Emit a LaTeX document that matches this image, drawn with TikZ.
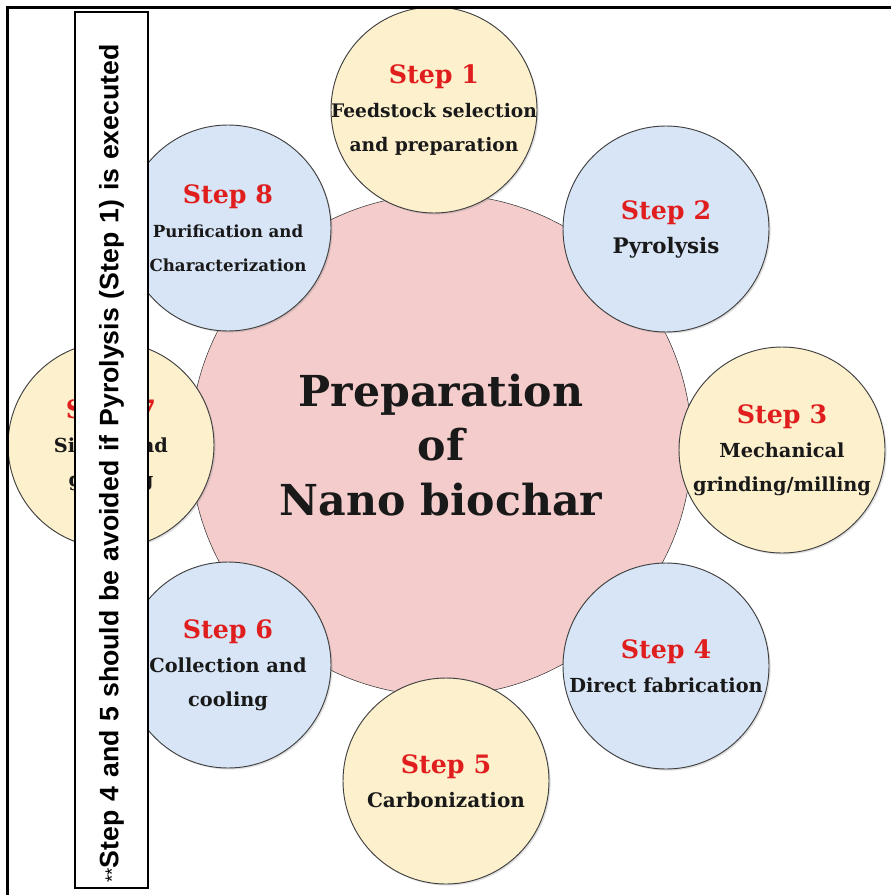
\documentclass[tikz,border=0pt]{standalone}
\usepackage{fontspec}
\setmainfont{DejaVu Serif}
\setsansfont{Liberation Sans}
\usepackage{xcolor}
\usetikzlibrary{shadows}

\definecolor{hubpink}{HTML}{F4CCCC}
\definecolor{stepyellow}{HTML}{FDF0CD}
\definecolor{stepblue}{HTML}{D7E5F6}
\definecolor{stepred}{HTML}{E01E1E}

\begin{document}
\begin{tikzpicture}[x=0.75pt, y=-0.75pt,
                    hub/.style={circle, draw=black!80, fill=hubpink, minimum size=376pt, inner sep=0pt,
                                align=center, font=\bfseries\fontsize{32}{41}\selectfont, text=black!90},
                    stepball/.style={circle, draw=black!75, line width=0.7pt, minimum size=154.5pt, inner sep=-15pt,
                                     align=center, font=\bfseries\fontsize{14.5}{25.5}\selectfont, text=black!90,
                                     drop shadow={opacity=0.25, shadow xshift=1.2pt, shadow yshift=-1.2pt}},
                    yellowball/.style={stepball, fill=stepyellow},
                    blueball/.style={stepball, fill=stepblue},
                    note/.style={rectangle, draw, line width=1pt, fill=white, rotate=90, minimum width=657pt,
                                 minimum height=54.75pt, text width=649pt, inner xsep=4pt, align=left,
                                 font=\sffamily\bfseries\fontsize{20}{24}\selectfont}]
\newcommand{\steptitle}[1]{{\color{stepred}\fontsize{19}{25.5}\selectfont Step #1}}

\useasboundingbox (0,0) rectangle (890,895);

% Central circle
\node[hub] (hub) at (441,445) {Preparation\\ of\\ Nano biochar};

% The eight steps around it
\node[yellowball, font=\bfseries\fontsize{14}{25.5}\selectfont] (s1) at (434,110) {\steptitle{1}\\ Feedstock selection\\ and preparation};
\node[blueball, font=\bfseries\fontsize{16}{25.5}\selectfont] (s2) at (666,229) {\steptitle{2}\\ Pyrolysis};
\node[yellowball] (s3) at (782,450) {\steptitle{3}\\ Mechanical\\ grinding/milling};
\node[blueball] (s4) at (666,666) {\steptitle{4}\\ Direct fabrication};
\node[yellowball, font=\bfseries\fontsize{15}{25.5}\selectfont] (s5) at (446,781) {\steptitle{5}\\ Carbonization};
\node[blueball] (s6) at (228,665) {\steptitle{6}\\ Collection and\\ cooling};
\node[yellowball] (s7) at (111,445) {\steptitle{7}\\ Sizing and\\ grading};
\node[blueball, font=\bfseries\fontsize{12.5}{25.5}\selectfont] (s8) at (228,228) {\steptitle{8}\\ Purification and\\ Characterization};

% Side note
\node[note] (remark) at (111.5,450) {{\mdseries\fontsize{14}{14}\selectfont **}Step 4 and 5 should be avoided if Pyrolysis (Step 1) is executed};

% Outer frame
\draw[line width=2.3pt] (7.5,900) -- (7.5,7.5) -- (900,7.5);

\end{tikzpicture}
\end{document}
